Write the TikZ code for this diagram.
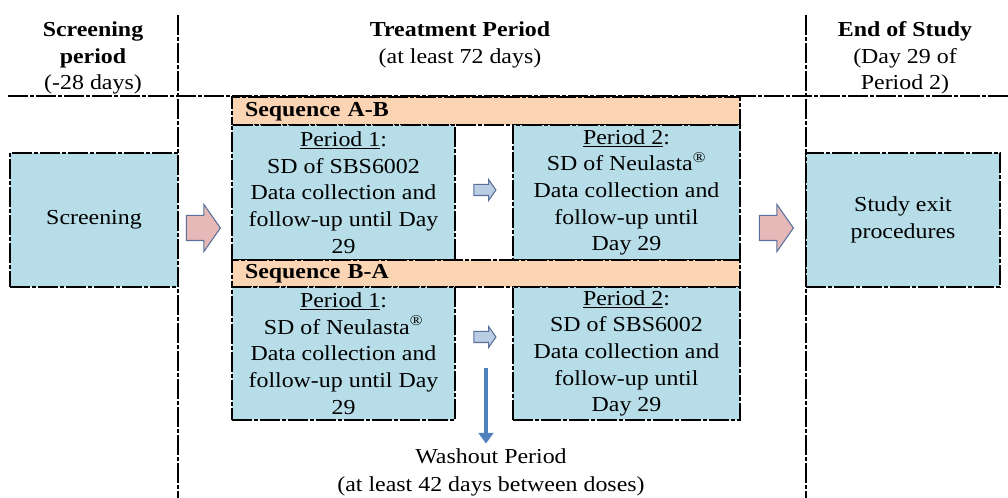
\documentclass[tikz,border=0pt]{standalone}
\usepackage{fontspec}
\setmainfont{Liberation Serif}[FakeStretch=1.12]
\usepackage{xcolor}
\usetikzlibrary{shapes.arrows, positioning, arrows.meta}

\definecolor{boxblue}{HTML}{B7DDE8}
\definecolor{seqpeach}{HTML}{FBD4B4}
\definecolor{pinkarrow}{HTML}{E6B9B8}
\definecolor{lightarrow}{HTML}{B9CDE5}
\definecolor{arrowedge}{HTML}{5A7099}
\definecolor{washblue}{HTML}{4F81BD}

\begin{document}
\begin{tikzpicture}[x=0.75pt, y=-0.75pt, font=\fontsize{16}{20}\selectfont]
    % Styles for the boxes and arrows
    \tikzstyle{dash dot line}=[line width=0.9pt, dash pattern=on 15pt off 1.5pt on 3pt off 1.5pt]
    \tikzstyle{stage box}=[rectangle, draw, dash dot line, fill=boxblue, align=center, inner sep=0pt]
    \tikzstyle{sequence bar}=[rectangle, draw, dash dot line, fill=seqpeach, font=\fontsize{16}{20}\selectfont\bfseries,
        text width=361.5pt, align=left, inner xsep=9.75pt, inner ysep=0pt, text height=11pt, text depth=3pt]
    \tikzstyle{big arrow}=[single arrow, draw=arrowedge, fill=pinkarrow, line width=0.8pt, inner xsep=0pt, inner ysep=9pt,
        minimum height=25.5pt, single arrow head extend=8.25pt, single arrow tip angle=110]
    \tikzstyle{small arrow}=[single arrow, draw=arrowedge, fill=lightarrow, line width=0.8pt, inner xsep=0pt, inner ysep=3.75pt,
        minimum height=16.5pt, single arrow head extend=3.75pt, single arrow tip angle=110]

    \useasboundingbox (0,0) rectangle (1008,498);

    % Column dividers and header line
    \draw[dash dot line] (178,15) -- (178,498);
    \draw[dash dot line] (806,15) -- (806,498);
    \draw[dash dot line] (8,96) -- (1008,96);

    % Headers
    \node[align=center] (hdScreen) at (93,58) {\textbf{Screening}\\\textbf{period}\\(-28 days)};
    \node[align=center] (hdTreat) at (460,45) {\textbf{Treatment Period}\\(at least 72 days)};
    \node[align=center] (hdEnd) at (905,58) {\textbf{End of Study}\\(Day 29 of\\Period 2)};

    % Screening and exit boxes
    \node[stage box, minimum width=126pt, minimum height=100.5pt] (screen) at (94,220) {Screening};
    \node[stage box, minimum width=145.5pt, minimum height=100.5pt] (exit) at (903,220) {Study exit\\procedures};

    % Sequence A-B
    \node[sequence bar, minimum height=21pt] (seqAB) at (486,111) {Sequence A-B};
    \node[stage box, minimum width=167.25pt, minimum height=101.25pt] (perA1) at (343.5,192.5)
        {\underline{Period 1}:\\SD of SBS6002\\Data collection and\\follow-up until Day\\29};
    \node[stage box, minimum width=170.25pt, minimum height=101.25pt] (perA2) at (626.5,192.5)
        {\underline{Period 2}:\\SD of Neulasta\textsuperscript{\textregistered}\\Data collection and\\follow-up until\\Day 29};

    % Sequence B-A
    \node[sequence bar, minimum height=20.25pt] (seqBA) at (486,273.5) {Sequence B-A};
    \node[stage box, minimum width=167.25pt, minimum height=99.75pt] (perB1) at (343.5,353.5)
        {\underline{Period 1}:\\SD of Neulasta\textsuperscript{\textregistered}\\Data collection and\\follow-up until Day\\29};
    \node[stage box, minimum width=170.25pt, minimum height=99.75pt] (perB2) at (626.5,353.5)
        {\underline{Period 2}:\\SD of SBS6002\\Data collection and\\follow-up until\\Day 29};

    % Block arrows
    \node[big arrow] (enterArrow) at (199,228) {};
    \node[big arrow] (exitArrow) at (772,228) {};
    \node[small arrow] (stepA) at (483,190) {};
    \node[small arrow] (stepB) at (483,337) {};

    % Washout period
    \node[align=center] (wash) at (491,472) {Washout Period\\[1pt](at least 42 days between doses)};
    \coordinate (washTop) at (486,368);
    \draw[-{Triangle[length=8pt, width=11pt]}, washblue, line width=2.5pt] (washTop) -- (washTop |- wash.north);

\end{tikzpicture}
\end{document}
